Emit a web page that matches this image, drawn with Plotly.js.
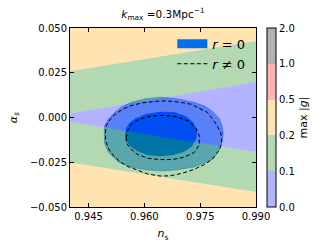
<!DOCTYPE html>
<html>
<head>
<meta charset="utf-8">
<script src="https://cdn.plot.ly/plotly-3.0.1.min.js"></script>
<style>
  html, body { margin: 0; padding: 0; background: #fff; }
  #plot { width: 326px; height: 252px; }
</style>
</head>
<body>
<div id="plot"></div>
<script>

// max|g| colour bands, straight edges from ns = 0.94 to 0.99
const bandX = [0.94, 0.99];
const blueTop = [0.0022, 0.0198];
const blueBot = [-0.0025, -0.0193];
const greenTop = [0.0258, 0.0427];
const greenBot = [-0.0252, -0.0416];
const frameTop = [0.05, 0.05];
const frameBot = [-0.05, -0.05];

// r = 0 filled contours (95% and 68%)
const outerNs = [0.9492,0.9494,0.9503,0.9521,0.9540,0.9565,0.9602,0.9645,0.9688,0.9732,0.9763,0.9785,0.9801,0.9808,0.9812,0.9809,0.9803,0.9785,0.9761,0.9732,0.9688,0.9645,0.9605,0.9565,0.9530,0.9503,0.9493];
const outerAs = [-0.0083,-0.0045,-0.0010,0.0029,0.0060,0.0085,0.0104,0.0113,0.0104,0.0085,0.0063,0.0029,-0.0005,-0.0045,-0.0088,-0.0133,-0.0174,-0.0230,-0.0256,-0.0277,-0.0292,-0.0298,-0.0292,-0.0277,-0.0249,-0.0193,-0.0144];
const innerNs = [0.9548,0.9551,0.9559,0.9575,0.9602,0.9642,0.9683,0.9712,0.9731,0.9742,0.9740,0.9728,0.9707,0.9675,0.9642,0.9610,0.9581,0.9559,0.9550];
const innerAs = [-0.0094,-0.0060,-0.0032,-0.0005,0.0018,0.0032,0.0029,0.0007,-0.0027,-0.0072,-0.0116,-0.0161,-0.0192,-0.0211,-0.0217,-0.0211,-0.0189,-0.0155,-0.0127];

// r != 0 dashed contours
const dOuterNs = [0.9495,0.9497,0.9507,0.9519,0.9544,0.9567,0.9595,0.9621,0.9645,0.9669,0.9696,0.9726,0.9750,0.9769,0.9783,0.9795,0.9805,0.9808,0.9806,0.9799,0.9782,0.9758,0.9732,0.9701,0.9669,0.9642,0.9608,0.9578,0.9551,0.9535,0.9516,0.9503,0.9496];
const dOuterAs = [-0.0088,-0.0046,-0.0013,0.0015,0.0049,0.0068,0.0082,0.0089,0.0093,0.0091,0.0085,0.0074,0.0051,0.0029,-0.0007,-0.0044,-0.0083,-0.0119,-0.0155,-0.0189,-0.0234,-0.0267,-0.0291,-0.0312,-0.0326,-0.0327,-0.0315,-0.0292,-0.0270,-0.0248,-0.0211,-0.0172,-0.0130];
const dInnerNs = [0.9551,0.9554,0.9565,0.9586,0.9616,0.9650,0.9688,0.9720,0.9739,0.9748,0.9747,0.9734,0.9707,0.9675,0.9642,0.9610,0.9581,0.9562,0.9552];
const dInnerAs = [-0.0116,-0.0077,-0.0038,-0.0010,0.0007,0.0012,0.0004,-0.0021,-0.0060,-0.0105,-0.0155,-0.0195,-0.0222,-0.0235,-0.0235,-0.0228,-0.0206,-0.0172,-0.0144];

// colour bar
const levelLabels = ['0.0', '0.1', '0.2', '0.5', '1.0', '2.0'];
const levelColors = ['rgb(179,179,255)', 'rgb(179,217,179)', 'rgb(255,228,179)', 'rgb(255,179,179)', 'rgb(179,179,179)'];
const bandColors = ['rgba(0,0,255,0.3)', 'rgba(0,128,0,0.3)', 'rgba(255,165,0,0.3)'];

const FONT = 'DejaVu Sans, Liberation Sans, sans-serif';

function band(lower, upper, color) {
	return {
		x: [bandX[0], bandX[1], bandX[1], bandX[0]],
		y: [lower[0], lower[1], upper[1], upper[0]],
		type: 'scatter', mode: 'lines', fill: 'toself',
		fillcolor: color, line: {width: 0},
		showlegend: false, hoverinfo: 'skip',
	};
}

function closed(arr) {
	return arr.concat([arr[0]]);
}

// discrete colourscale, one step per level interval
let nSteps = levelColors.length;
let cscale = [];
for (let i = 0; i < nSteps; i++) {
	cscale.push([i / nSteps, levelColors[i]]);
	cscale.push([(i + 1) / nSteps, levelColors[i]]);
}

let traces = [];

// contours first, the bands are laid over them with alpha
traces.push({
	x: closed(outerNs), y: closed(outerAs),
	type: 'scatter', mode: 'lines', fill: 'toself',
	fillcolor: 'rgb(128,183,246)', line: {color: 'rgb(85,150,242)', width: 0.8},
	showlegend: false, hoverinfo: 'skip',
});
traces.push({
	x: closed(innerNs), y: closed(innerAs),
	type: 'scatter', mode: 'lines', fill: 'toself',
	fillcolor: '#006FED', line: {width: 0},
	showlegend: false, hoverinfo: 'skip',
});

traces.push(band(greenTop, frameTop, bandColors[2]));
traces.push(band(blueTop, greenTop, bandColors[1]));
traces.push(band(blueBot, blueTop, bandColors[0]));
traces.push(band(greenBot, blueBot, bandColors[1]));
traces.push(band(frameBot, greenBot, bandColors[2]));

// legend-only entry: a thick swatch for the filled r = 0 contours
traces.push({
	x: [null], y: [null],
	type: 'scatter', mode: 'lines',
	line: {color: '#006FED', width: 9},
	name: '<i>r</i> = 0', showlegend: true, hoverinfo: 'skip',
});

traces.push({
	x: closed(dOuterNs), y: closed(dOuterAs),
	type: 'scatter', mode: 'lines',
	line: {color: '#000', width: 1, dash: '4px,2.5px'},
	name: '<i>r</i> ≠ 0', showlegend: true, hoverinfo: 'skip',
});
traces.push({
	x: closed(dInnerNs), y: closed(dInnerAs),
	type: 'scatter', mode: 'lines',
	line: {color: '#000', width: 1, dash: '4px,2.5px'},
	showlegend: false, hoverinfo: 'skip',
});

// dummy point outside the range, only carries the colour bar
traces.push({
	x: [0.93], y: [0],
	type: 'scatter', mode: 'markers',
	marker: {
		color: [0], cmin: 0, cmax: nSteps, colorscale: cscale, showscale: true,
		colorbar: {
			thickness: 9, thicknessmode: 'pixels',
			len: 1, lenmode: 'fraction',
			x: 1.057, xanchor: 'left', xpad: 0,
			y: 0.5, yanchor: 'middle', ypad: 0,
			outlinewidth: 1, outlinecolor: '#000',
			tickmode: 'array', tickvals: levelLabels.map((s, i) => i), ticktext: levelLabels,
			ticks: '', tickfont: {size: 10, color: '#000'},
			title: {text: 'max |<i>g</i>|', side: 'right', font: {size: 11, color: '#000'}},
		},
	},
	showlegend: false, hoverinfo: 'skip',
});

let layout = {
	width: 326, height: 252,
	margin: {l: 70, r: 70, t: 28, b: 45},
	paper_bgcolor: '#fff', plot_bgcolor: '#fff',
	font: {family: FONT, size: 10, color: '#000'},
	title: {text: '<i>k</i><sub>max</sub> =0.3Mpc<sup>−1</sup>', font: {size: 10.5}, x: 0.5, xref: 'paper', y: 0.945, yanchor: 'middle'},
	xaxis: {
		range: [0.94, 0.99],
		tickmode: 'array', tickvals: [0.945, 0.960, 0.975, 0.990], ticktext: ['0.945', '0.960', '0.975', '0.990'],
		ticks: 'inside', ticklen: 4, tickwidth: 1, tickcolor: '#000',
		showline: true, linecolor: '#000', linewidth: 1, mirror: 'ticks',
		showgrid: false, zeroline: false,
		title: {text: '<i>n</i><sub>s</sub>', font: {size: 11}, standoff: 8},
	},
	yaxis: {
		range: [-0.05, 0.05],
		tickmode: 'array', tickvals: [-0.05, -0.025, 0, 0.025, 0.05], ticktext: ['−0.050', '−0.025', '0.000', '0.025', '0.050'],
		ticks: 'inside', ticklen: 4, tickwidth: 1, tickcolor: '#000',
		showline: true, linecolor: '#000', linewidth: 1, mirror: 'ticks',
		showgrid: false, zeroline: false,
		title: {text: '<i>α</i><sub><i>s</i></sub>', font: {size: 11}, standoff: 10},
	},
	legend: {
		x: 0.55, xanchor: 'left', y: 0.995, yanchor: 'top',
		bgcolor: 'rgba(0,0,0,0)', borderwidth: 0,
		font: {size: 13},
	},
	showlegend: true,
};

Plotly.newPlot('plot', traces, layout, {displayModeBar: false, staticPlot: true});

</script>
</body>
</html>
